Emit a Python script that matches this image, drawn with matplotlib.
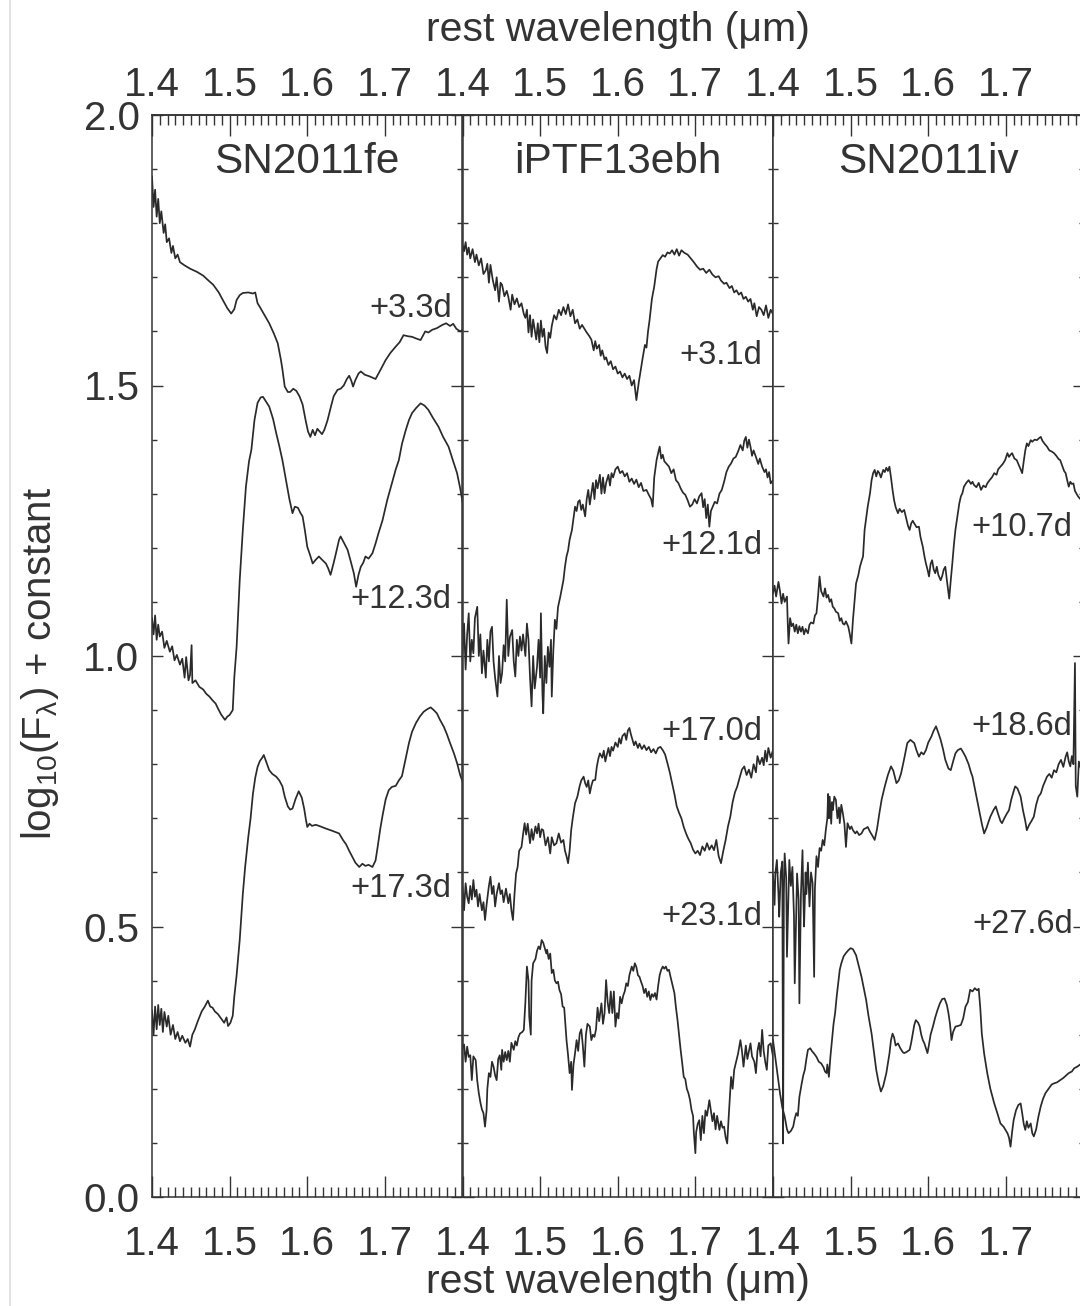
import numpy as np
import matplotlib
matplotlib.use("Agg")
import matplotlib.pyplot as plt
from matplotlib.ticker import MultipleLocator, FixedLocator, FixedFormatter
from matplotlib.lines import Line2D

plt.rcParams['font.family'] = ['Liberation Sans', 'DejaVu Sans']
plt.rcParams['mathtext.fontset'] = 'custom'
plt.rcParams['mathtext.rm'] = 'Liberation Sans'
plt.rcParams['mathtext.it'] = 'Liberation Sans:italic'

# --- spectra: (rest wavelength [um], log10 F + const) ---
fe_p33 = np.array([
    (1.400, 1.886), (1.402, 1.830), (1.404, 1.862), (1.406, 1.812), (1.408, 1.845), (1.410, 1.800),
    (1.412, 1.822), (1.415, 1.782), (1.417, 1.798), (1.419, 1.765), (1.422, 1.772), (1.425, 1.745),
    (1.427, 1.758), (1.430, 1.735), (1.433, 1.742), (1.436, 1.728), (1.442, 1.722), (1.449, 1.716),
    (1.458, 1.710), (1.466, 1.703), (1.472, 1.695), (1.479, 1.686), (1.486, 1.672), (1.492, 1.656),
    (1.497, 1.643), (1.502, 1.633), (1.506, 1.641), (1.509, 1.658), (1.513, 1.667), (1.517, 1.671),
    (1.524, 1.672), (1.530, 1.670), (1.533, 1.672), (1.536, 1.652), (1.539, 1.645), (1.545, 1.630),
    (1.551, 1.615), (1.557, 1.596), (1.562, 1.578), (1.566, 1.548), (1.568, 1.530), (1.571, 1.498),
    (1.575, 1.488), (1.578, 1.488), (1.582, 1.494), (1.586, 1.490), (1.590, 1.480), (1.594, 1.465),
    (1.598, 1.435), (1.601, 1.415), (1.604, 1.405), (1.607, 1.418), (1.610, 1.408), (1.613, 1.420),
    (1.616, 1.415), (1.619, 1.410), (1.622, 1.418), (1.626, 1.435), (1.630, 1.458), (1.634, 1.480),
    (1.639, 1.492), (1.643, 1.494), (1.647, 1.500), (1.651, 1.512), (1.654, 1.518), (1.657, 1.508),
    (1.659, 1.498), (1.662, 1.510), (1.666, 1.522), (1.669, 1.526), (1.674, 1.520), (1.680, 1.517),
    (1.688, 1.512), (1.694, 1.528), (1.701, 1.547), (1.707, 1.560), (1.714, 1.572), (1.719, 1.580),
    (1.724, 1.593), (1.730, 1.591), (1.735, 1.590), (1.740, 1.587), (1.746, 1.584), (1.752, 1.600),
    (1.756, 1.598), (1.761, 1.603), (1.767, 1.606), (1.774, 1.612), (1.779, 1.615), (1.784, 1.610),
    (1.788, 1.614), (1.792, 1.605), (1.797, 1.600), (1.800, 1.603)])

fe_p123 = np.array([
    (1.400, 1.070), (1.402, 1.040), (1.404, 1.075), (1.406, 1.030), (1.408, 1.058), (1.410, 1.036),
    (1.413, 1.045), (1.416, 1.015), (1.419, 1.028), (1.423, 1.008), (1.426, 1.018), (1.429, 0.992),
    (1.432, 1.002), (1.436, 0.984), (1.439, 0.995), (1.442, 0.960), (1.444, 0.998), (1.447, 0.955),
    (1.449, 0.965), (1.451, 1.020), (1.452, 0.950), (1.456, 0.955), (1.461, 0.943), (1.466, 0.938),
    (1.470, 0.930), (1.474, 0.925), (1.478, 0.918), (1.482, 0.912), (1.485, 0.903), (1.489, 0.892),
    (1.494, 0.882), (1.497, 0.888), (1.500, 0.891), (1.504, 0.900), (1.506, 0.960), (1.509, 1.017),
    (1.513, 1.140), (1.517, 1.233), (1.521, 1.313), (1.525, 1.360), (1.528, 1.381), (1.532, 1.436),
    (1.536, 1.468), (1.540, 1.478), (1.543, 1.479), (1.547, 1.470), (1.551, 1.461), (1.556, 1.438),
    (1.560, 1.412), (1.564, 1.388), (1.568, 1.362), (1.573, 1.322), (1.577, 1.290), (1.581, 1.264),
    (1.584, 1.276), (1.588, 1.274), (1.591, 1.265), (1.594, 1.258), (1.597, 1.232), (1.600, 1.202),
    (1.604, 1.185), (1.607, 1.171), (1.611, 1.178), (1.615, 1.184), (1.619, 1.178), (1.624, 1.171),
    (1.627, 1.162), (1.630, 1.150), (1.634, 1.172), (1.637, 1.190), (1.641, 1.215), (1.643, 1.221),
    (1.647, 1.210), (1.652, 1.196), (1.656, 1.175), (1.660, 1.153), (1.663, 1.128), (1.666, 1.150),
    (1.669, 1.165), (1.672, 1.172), (1.675, 1.184), (1.679, 1.180), (1.684, 1.190), (1.688, 1.208),
    (1.692, 1.228), (1.697, 1.251), (1.703, 1.288), (1.709, 1.319), (1.714, 1.345), (1.718, 1.362),
    (1.722, 1.392), (1.727, 1.418), (1.731, 1.436), (1.735, 1.449), (1.740, 1.458), (1.746, 1.467),
    (1.751, 1.463), (1.756, 1.455), (1.762, 1.440), (1.769, 1.424), (1.775, 1.405), (1.782, 1.387),
    (1.788, 1.360), (1.793, 1.338), (1.797, 1.310), (1.800, 1.285)])

fe_p173 = np.array([
    (1.400, 0.345), (1.402, 0.300), (1.404, 0.352), (1.406, 0.310), (1.408, 0.355), (1.410, 0.318),
    (1.412, 0.348), (1.414, 0.305), (1.416, 0.342), (1.419, 0.315), (1.421, 0.335), (1.424, 0.300),
    (1.427, 0.318), (1.430, 0.292), (1.433, 0.305), (1.436, 0.288), (1.439, 0.298), (1.443, 0.285),
    (1.446, 0.292), (1.449, 0.278), (1.452, 0.300), (1.455, 0.309), (1.459, 0.325), (1.464, 0.343),
    (1.468, 0.352), (1.472, 0.363), (1.475, 0.352), (1.478, 0.350), (1.481, 0.343), (1.485, 0.338),
    (1.489, 0.330), (1.493, 0.322), (1.496, 0.332), (1.498, 0.316), (1.501, 0.322), (1.504, 0.335),
    (1.506, 0.370), (1.509, 0.410), (1.513, 0.475), (1.517, 0.560), (1.520, 0.610), (1.524, 0.665),
    (1.527, 0.700), (1.530, 0.745), (1.533, 0.775), (1.536, 0.795), (1.539, 0.806), (1.542, 0.812),
    (1.544, 0.817), (1.547, 0.805), (1.551, 0.789), (1.555, 0.782), (1.560, 0.777), (1.564, 0.770),
    (1.568, 0.759), (1.571, 0.740), (1.575, 0.722), (1.578, 0.716), (1.581, 0.718), (1.585, 0.736),
    (1.589, 0.750), (1.593, 0.738), (1.596, 0.718), (1.598, 0.700), (1.600, 0.684), (1.603, 0.690),
    (1.606, 0.686), (1.611, 0.688), (1.617, 0.685), (1.624, 0.681), (1.632, 0.677), (1.641, 0.672),
    (1.646, 0.660), (1.650, 0.652), (1.654, 0.640), (1.658, 0.629), (1.662, 0.618), (1.667, 0.610),
    (1.671, 0.616), (1.675, 0.612), (1.679, 0.614), (1.684, 0.610), (1.688, 0.622), (1.691, 0.650),
    (1.694, 0.680), (1.697, 0.705), (1.701, 0.735), (1.705, 0.752), (1.709, 0.758), (1.714, 0.760),
    (1.718, 0.770), (1.722, 0.778), (1.726, 0.805), (1.731, 0.839), (1.735, 0.860), (1.740, 0.876),
    (1.745, 0.888), (1.750, 0.897), (1.755, 0.902), (1.759, 0.905), (1.763, 0.900), (1.767, 0.894),
    (1.771, 0.882), (1.776, 0.869), (1.780, 0.855), (1.784, 0.839), (1.789, 0.820), (1.793, 0.802),
    (1.797, 0.780), (1.800, 0.768)])

eb_p31 = np.array([
    (1.400, 1.760), (1.402, 1.748), (1.404, 1.765), (1.406, 1.742), (1.408, 1.755), (1.410, 1.735),
    (1.413, 1.752), (1.416, 1.728), (1.418, 1.742), (1.421, 1.722), (1.424, 1.735), (1.427, 1.706),
    (1.430, 1.713), (1.432, 1.725), (1.434, 1.690), (1.436, 1.723), (1.439, 1.695), (1.442, 1.676),
    (1.444, 1.700), (1.447, 1.655), (1.449, 1.690), (1.451, 1.686), (1.454, 1.665), (1.457, 1.675),
    (1.459, 1.664), (1.462, 1.640), (1.464, 1.668), (1.467, 1.650), (1.470, 1.661), (1.473, 1.645),
    (1.476, 1.652), (1.479, 1.632), (1.481, 1.625), (1.483, 1.640), (1.485, 1.598), (1.487, 1.630),
    (1.489, 1.590), (1.491, 1.622), (1.493, 1.603), (1.495, 1.585), (1.497, 1.615), (1.499, 1.580),
    (1.501, 1.620), (1.503, 1.590), (1.505, 1.605), (1.507, 1.572), (1.509, 1.560), (1.511, 1.598),
    (1.513, 1.588), (1.515, 1.610), (1.518, 1.630), (1.521, 1.622), (1.524, 1.640), (1.527, 1.630),
    (1.530, 1.645), (1.533, 1.632), (1.536, 1.650), (1.539, 1.628), (1.542, 1.640), (1.545, 1.615),
    (1.548, 1.622), (1.551, 1.605), (1.554, 1.612), (1.557, 1.605), (1.560, 1.598), (1.563, 1.592),
    (1.566, 1.585), (1.569, 1.565), (1.571, 1.582), (1.573, 1.568), (1.576, 1.575), (1.578, 1.555),
    (1.580, 1.565), (1.583, 1.548), (1.585, 1.552), (1.588, 1.538), (1.591, 1.545), (1.594, 1.530),
    (1.597, 1.535), (1.600, 1.522), (1.603, 1.526), (1.606, 1.515), (1.609, 1.522), (1.612, 1.512),
    (1.615, 1.518), (1.618, 1.500), (1.621, 1.510), (1.624, 1.473), (1.627, 1.505), (1.629, 1.523),
    (1.632, 1.550), (1.635, 1.575), (1.637, 1.570), (1.639, 1.600), (1.641, 1.621), (1.644, 1.660),
    (1.647, 1.683), (1.650, 1.715), (1.652, 1.729), (1.655, 1.735), (1.658, 1.741), (1.661, 1.738),
    (1.664, 1.746), (1.667, 1.744), (1.670, 1.750), (1.673, 1.742), (1.676, 1.752), (1.679, 1.740),
    (1.682, 1.750), (1.686, 1.745), (1.690, 1.742), (1.694, 1.735), (1.698, 1.728), (1.702, 1.720),
    (1.706, 1.714), (1.710, 1.716), (1.714, 1.708), (1.718, 1.714), (1.722, 1.705), (1.726, 1.700),
    (1.730, 1.702), (1.733, 1.694), (1.737, 1.688), (1.740, 1.690), (1.744, 1.680), (1.747, 1.684),
    (1.750, 1.672), (1.753, 1.676), (1.756, 1.668), (1.759, 1.672), (1.762, 1.660), (1.765, 1.664),
    (1.768, 1.655), (1.771, 1.660), (1.774, 1.640), (1.776, 1.652), (1.779, 1.628), (1.782, 1.645),
    (1.785, 1.640), (1.788, 1.630), (1.791, 1.648), (1.794, 1.625), (1.797, 1.640), (1.800, 1.632)])

eb_p121 = np.array([
    (1.400, 1.005), (1.402, 1.060), (1.404, 0.975), (1.406, 1.040), (1.408, 1.079), (1.410, 0.990),
    (1.412, 1.030), (1.414, 1.005), (1.416, 1.070), (1.419, 1.091), (1.421, 1.000), (1.423, 1.040),
    (1.425, 0.968), (1.427, 1.010), (1.430, 0.960), (1.432, 1.030), (1.434, 0.990), (1.436, 1.045),
    (1.438, 1.054), (1.440, 0.990), (1.442, 0.960), (1.445, 0.925), (1.447, 1.000), (1.449, 0.950),
    (1.451, 0.968), (1.453, 1.020), (1.455, 0.990), (1.457, 1.104), (1.459, 1.000), (1.461, 1.035),
    (1.464, 1.048), (1.466, 0.990), (1.468, 0.962), (1.470, 1.030), (1.472, 1.000), (1.474, 1.036),
    (1.476, 1.010), (1.478, 1.040), (1.481, 1.000), (1.483, 1.060), (1.485, 1.030), (1.487, 0.960),
    (1.489, 0.907), (1.491, 1.000), (1.493, 0.940), (1.496, 0.980), (1.498, 1.030), (1.500, 0.960),
    (1.501, 1.079), (1.503, 0.930), (1.504, 0.894), (1.506, 1.000), (1.508, 0.950), (1.510, 1.017),
    (1.512, 0.980), (1.514, 1.030), (1.515, 0.925), (1.517, 1.010), (1.519, 1.067), (1.521, 1.050),
    (1.523, 1.090), (1.526, 1.110), (1.528, 1.125), (1.530, 1.140), (1.532, 1.165), (1.534, 1.184),
    (1.536, 1.195), (1.538, 1.215), (1.541, 1.233), (1.543, 1.255), (1.545, 1.276), (1.547, 1.268),
    (1.549, 1.285), (1.551, 1.288), (1.553, 1.270), (1.555, 1.280), (1.558, 1.258), (1.560, 1.290),
    (1.562, 1.307), (1.564, 1.280), (1.566, 1.300), (1.568, 1.320), (1.570, 1.290), (1.572, 1.325),
    (1.574, 1.310), (1.577, 1.335), (1.579, 1.300), (1.581, 1.330), (1.583, 1.301), (1.585, 1.320),
    (1.588, 1.335), (1.590, 1.315), (1.592, 1.338), (1.594, 1.330), (1.597, 1.345), (1.600, 1.350),
    (1.603, 1.338), (1.606, 1.342), (1.609, 1.332), (1.612, 1.338), (1.615, 1.322), (1.618, 1.328),
    (1.621, 1.318), (1.624, 1.326), (1.627, 1.312), (1.630, 1.320), (1.633, 1.305), (1.637, 1.307),
    (1.640, 1.298), (1.643, 1.290), (1.645, 1.276), (1.647, 1.330), (1.650, 1.362), (1.652, 1.375),
    (1.654, 1.387), (1.656, 1.365), (1.658, 1.372), (1.660, 1.360), (1.663, 1.355), (1.666, 1.350),
    (1.669, 1.338), (1.672, 1.345), (1.675, 1.325), (1.678, 1.320), (1.681, 1.310), (1.684, 1.302),
    (1.687, 1.298), (1.690, 1.288), (1.693, 1.276), (1.696, 1.280), (1.699, 1.290), (1.702, 1.282),
    (1.705, 1.295), (1.708, 1.301), (1.710, 1.275), (1.712, 1.290), (1.714, 1.255), (1.716, 1.280),
    (1.718, 1.239), (1.720, 1.268), (1.722, 1.275), (1.725, 1.285), (1.728, 1.282), (1.731, 1.300),
    (1.734, 1.307), (1.737, 1.322), (1.740, 1.340), (1.743, 1.350), (1.746, 1.356), (1.749, 1.365),
    (1.752, 1.368), (1.755, 1.378), (1.758, 1.390), (1.761, 1.380), (1.763, 1.398), (1.765, 1.405),
    (1.767, 1.385), (1.769, 1.400), (1.771, 1.387), (1.773, 1.370), (1.775, 1.380), (1.778, 1.368),
    (1.781, 1.355), (1.783, 1.365), (1.786, 1.350), (1.789, 1.340), (1.791, 1.345), (1.793, 1.330),
    (1.795, 1.340), (1.797, 1.319), (1.800, 1.325)])

eb_p170 = np.array([
    (1.400, 0.573), (1.402, 0.530), (1.404, 0.580), (1.406, 0.555), (1.408, 0.543), (1.410, 0.575),
    (1.412, 0.550), (1.414, 0.586), (1.416, 0.555), (1.418, 0.568), (1.420, 0.537), (1.422, 0.560),
    (1.425, 0.530), (1.427, 0.545), (1.429, 0.512), (1.431, 0.540), (1.434, 0.575), (1.436, 0.592),
    (1.438, 0.560), (1.440, 0.575), (1.442, 0.537), (1.444, 0.560), (1.447, 0.580), (1.449, 0.560),
    (1.451, 0.567), (1.453, 0.545), (1.456, 0.570), (1.459, 0.543), (1.461, 0.560), (1.463, 0.530),
    (1.465, 0.512), (1.467, 0.560), (1.469, 0.598), (1.471, 0.610), (1.473, 0.640), (1.476, 0.647),
    (1.478, 0.670), (1.480, 0.691), (1.482, 0.670), (1.484, 0.690), (1.487, 0.654), (1.489, 0.680),
    (1.491, 0.660), (1.494, 0.685), (1.496, 0.672), (1.498, 0.690), (1.500, 0.665), (1.502, 0.680),
    (1.504, 0.678), (1.507, 0.650), (1.510, 0.665), (1.513, 0.635), (1.515, 0.665), (1.518, 0.650),
    (1.521, 0.654), (1.524, 0.672), (1.527, 0.655), (1.530, 0.660), (1.532, 0.640), (1.534, 0.630),
    (1.536, 0.617), (1.538, 0.640), (1.540, 0.678), (1.542, 0.700), (1.545, 0.728), (1.548, 0.740),
    (1.551, 0.760), (1.553, 0.770), (1.556, 0.777), (1.558, 0.765), (1.560, 0.758), (1.562, 0.770),
    (1.564, 0.746), (1.566, 0.760), (1.568, 0.770), (1.571, 0.771), (1.573, 0.795), (1.575, 0.810),
    (1.577, 0.820), (1.580, 0.812), (1.582, 0.825), (1.584, 0.805), (1.586, 0.818), (1.588, 0.830),
    (1.590, 0.815), (1.592, 0.832), (1.594, 0.825), (1.597, 0.840), (1.600, 0.832), (1.602, 0.848),
    (1.604, 0.838), (1.606, 0.852), (1.609, 0.857), (1.611, 0.845), (1.613, 0.862), (1.615, 0.867),
    (1.617, 0.855), (1.619, 0.845), (1.621, 0.835), (1.623, 0.842), (1.626, 0.830), (1.628, 0.838),
    (1.631, 0.828), (1.634, 0.835), (1.637, 0.826), (1.640, 0.832), (1.643, 0.822), (1.646, 0.828),
    (1.649, 0.820), (1.652, 0.830), (1.655, 0.832), (1.658, 0.826), (1.661, 0.818), (1.664, 0.802),
    (1.667, 0.785), (1.670, 0.765), (1.673, 0.745), (1.676, 0.722), (1.679, 0.710), (1.682, 0.700),
    (1.685, 0.684), (1.688, 0.672), (1.691, 0.662), (1.694, 0.654), (1.697, 0.642), (1.700, 0.635),
    (1.703, 0.640), (1.706, 0.632), (1.709, 0.648), (1.712, 0.640), (1.715, 0.654), (1.718, 0.642),
    (1.721, 0.650), (1.724, 0.641), (1.727, 0.660), (1.730, 0.630), (1.733, 0.617), (1.736, 0.640),
    (1.739, 0.660), (1.742, 0.685), (1.745, 0.703), (1.748, 0.730), (1.751, 0.748), (1.754, 0.759),
    (1.757, 0.775), (1.760, 0.790), (1.763, 0.796), (1.766, 0.780), (1.769, 0.790), (1.772, 0.775),
    (1.775, 0.800), (1.778, 0.785), (1.780, 0.815), (1.783, 0.800), (1.786, 0.812), (1.788, 0.798),
    (1.790, 0.825), (1.792, 0.805), (1.794, 0.830), (1.797, 0.812), (1.800, 0.826)])

eb_p231 = np.array([
    (1.400, 0.275), (1.402, 0.282), (1.404, 0.250), (1.406, 0.278), (1.408, 0.259), (1.410, 0.262),
    (1.412, 0.216), (1.414, 0.260), (1.417, 0.253), (1.419, 0.215), (1.421, 0.192), (1.423, 0.175),
    (1.425, 0.162), (1.427, 0.155), (1.429, 0.130), (1.431, 0.160), (1.432, 0.200), (1.434, 0.229),
    (1.436, 0.222), (1.438, 0.250), (1.440, 0.241), (1.442, 0.225), (1.444, 0.216), (1.446, 0.255),
    (1.448, 0.262), (1.450, 0.235), (1.451, 0.272), (1.453, 0.250), (1.455, 0.268), (1.457, 0.253),
    (1.459, 0.270), (1.461, 0.250), (1.463, 0.285), (1.466, 0.272), (1.468, 0.288), (1.470, 0.280),
    (1.472, 0.295), (1.474, 0.302), (1.477, 0.305), (1.479, 0.309), (1.481, 0.360), (1.483, 0.426),
    (1.485, 0.400), (1.486, 0.333), (1.488, 0.300), (1.489, 0.400), (1.491, 0.432), (1.494, 0.440),
    (1.496, 0.455), (1.498, 0.463), (1.500, 0.458), (1.502, 0.475), (1.504, 0.470), (1.506, 0.460),
    (1.508, 0.450), (1.509, 0.457), (1.511, 0.440), (1.513, 0.450), (1.515, 0.414), (1.517, 0.420),
    (1.519, 0.400), (1.521, 0.395), (1.523, 0.398), (1.525, 0.382), (1.527, 0.375), (1.529, 0.352),
    (1.531, 0.350), (1.534, 0.290), (1.536, 0.262), (1.538, 0.229), (1.540, 0.250), (1.541, 0.198),
    (1.543, 0.245), (1.545, 0.266), (1.547, 0.290), (1.549, 0.270), (1.551, 0.302), (1.553, 0.310),
    (1.555, 0.280), (1.557, 0.241), (1.559, 0.300), (1.561, 0.320), (1.564, 0.315), (1.566, 0.290),
    (1.568, 0.300), (1.570, 0.296), (1.572, 0.310), (1.574, 0.350), (1.576, 0.325), (1.579, 0.358),
    (1.581, 0.320), (1.583, 0.340), (1.585, 0.401), (1.587, 0.360), (1.589, 0.340), (1.591, 0.380),
    (1.593, 0.340), (1.595, 0.380), (1.597, 0.315), (1.599, 0.340), (1.601, 0.330), (1.603, 0.370),
    (1.605, 0.358), (1.607, 0.372), (1.609, 0.380), (1.611, 0.395), (1.613, 0.390), (1.615, 0.410),
    (1.618, 0.426), (1.620, 0.418), (1.622, 0.432), (1.624, 0.425), (1.626, 0.410), (1.628, 0.407),
    (1.630, 0.398), (1.632, 0.390), (1.634, 0.377), (1.636, 0.385), (1.638, 0.370), (1.640, 0.380),
    (1.642, 0.364), (1.644, 0.375), (1.646, 0.370), (1.648, 0.377), (1.650, 0.365), (1.652, 0.390),
    (1.654, 0.410), (1.656, 0.420), (1.658, 0.426), (1.660, 0.422), (1.662, 0.426), (1.664, 0.418),
    (1.666, 0.420), (1.668, 0.407), (1.670, 0.395), (1.673, 0.377), (1.675, 0.350), (1.677, 0.327),
    (1.679, 0.300), (1.681, 0.272), (1.683, 0.248), (1.685, 0.222), (1.687, 0.218), (1.689, 0.200),
    (1.691, 0.192), (1.693, 0.180), (1.695, 0.161), (1.697, 0.150), (1.698, 0.120), (1.700, 0.081),
    (1.701, 0.120), (1.703, 0.135), (1.705, 0.142), (1.707, 0.105), (1.709, 0.150), (1.711, 0.118),
    (1.713, 0.160), (1.715, 0.150), (1.718, 0.179), (1.720, 0.160), (1.722, 0.140), (1.724, 0.155),
    (1.726, 0.125), (1.728, 0.150), (1.731, 0.124), (1.733, 0.140), (1.735, 0.128), (1.737, 0.130),
    (1.739, 0.110), (1.741, 0.099), (1.743, 0.150), (1.746, 0.222), (1.748, 0.200), (1.750, 0.235),
    (1.752, 0.247), (1.755, 0.265), (1.758, 0.290), (1.760, 0.270), (1.762, 0.241), (1.765, 0.280),
    (1.767, 0.255), (1.769, 0.270), (1.771, 0.284), (1.773, 0.260), (1.776, 0.250), (1.778, 0.229),
    (1.780, 0.270), (1.782, 0.285), (1.784, 0.260), (1.786, 0.309), (1.788, 0.270), (1.790, 0.250),
    (1.792, 0.235), (1.794, 0.280), (1.797, 0.284), (1.800, 0.260)])

iv_p107 = np.array([
    (1.400, 1.116), (1.402, 1.130), (1.404, 1.110), (1.407, 1.137), (1.409, 1.120), (1.411, 1.097),
    (1.413, 1.115), (1.415, 1.100), (1.418, 1.110), (1.419, 1.060), (1.420, 1.023), (1.422, 1.070),
    (1.424, 1.055), (1.426, 1.060), (1.428, 1.045), (1.430, 1.058), (1.432, 1.042), (1.434, 1.055),
    (1.436, 1.045), (1.438, 1.054), (1.440, 1.040), (1.442, 1.050), (1.445, 1.042), (1.447, 1.058),
    (1.449, 1.062), (1.452, 1.060), (1.454, 1.075), (1.456, 1.079), (1.458, 1.110), (1.460, 1.147),
    (1.462, 1.120), (1.465, 1.110), (1.467, 1.125), (1.469, 1.108), (1.471, 1.113), (1.473, 1.100),
    (1.475, 1.105), (1.477, 1.091), (1.479, 1.088), (1.481, 1.082), (1.484, 1.079), (1.486, 1.065),
    (1.488, 1.070), (1.490, 1.060), (1.492, 1.058), (1.494, 1.064), (1.497, 1.054), (1.499, 1.040),
    (1.501, 1.023), (1.503, 1.067), (1.505, 1.100), (1.507, 1.134), (1.510, 1.150), (1.512, 1.165),
    (1.514, 1.175), (1.516, 1.184), (1.518, 1.233), (1.520, 1.255), (1.522, 1.276), (1.525, 1.301),
    (1.527, 1.325), (1.529, 1.338), (1.531, 1.344), (1.533, 1.332), (1.535, 1.342), (1.537, 1.338),
    (1.539, 1.330), (1.542, 1.344), (1.544, 1.340), (1.546, 1.348), (1.548, 1.342), (1.550, 1.350),
    (1.552, 1.330), (1.554, 1.307), (1.556, 1.288), (1.558, 1.275), (1.561, 1.264), (1.563, 1.272),
    (1.566, 1.266), (1.569, 1.270), (1.572, 1.252), (1.574, 1.240), (1.576, 1.233), (1.578, 1.245),
    (1.580, 1.250), (1.582, 1.245), (1.585, 1.238), (1.588, 1.239), (1.590, 1.220), (1.593, 1.202),
    (1.595, 1.185), (1.597, 1.171), (1.599, 1.160), (1.601, 1.147), (1.603, 1.170), (1.605, 1.177),
    (1.607, 1.160), (1.609, 1.153), (1.611, 1.165), (1.613, 1.150), (1.616, 1.140), (1.618, 1.148),
    (1.620, 1.160), (1.622, 1.165), (1.624, 1.140), (1.627, 1.106), (1.629, 1.140), (1.631, 1.171),
    (1.633, 1.205), (1.635, 1.233), (1.638, 1.262), (1.640, 1.282), (1.642, 1.295), (1.644, 1.301),
    (1.646, 1.313), (1.649, 1.320), (1.652, 1.325), (1.655, 1.318), (1.657, 1.322), (1.659, 1.316),
    (1.662, 1.312), (1.665, 1.320), (1.668, 1.307), (1.671, 1.315), (1.674, 1.312), (1.676, 1.319),
    (1.679, 1.325), (1.682, 1.330), (1.685, 1.338), (1.688, 1.335), (1.690, 1.345), (1.693, 1.350),
    (1.696, 1.355), (1.699, 1.362), (1.702, 1.375), (1.704, 1.368), (1.706, 1.372), (1.708, 1.375),
    (1.711, 1.365), (1.714, 1.362), (1.717, 1.352), (1.719, 1.345), (1.721, 1.338), (1.723, 1.360),
    (1.725, 1.380), (1.727, 1.393), (1.729, 1.388), (1.732, 1.399), (1.734, 1.396), (1.737, 1.400),
    (1.740, 1.399), (1.743, 1.403), (1.745, 1.405), (1.747, 1.398), (1.750, 1.392), (1.753, 1.387),
    (1.756, 1.380), (1.759, 1.378), (1.762, 1.375), (1.765, 1.370), (1.768, 1.364), (1.770, 1.362),
    (1.773, 1.350), (1.775, 1.342), (1.777, 1.338), (1.779, 1.325), (1.781, 1.313), (1.783, 1.322),
    (1.785, 1.318), (1.787, 1.319), (1.789, 1.305), (1.791, 1.300), (1.793, 1.295), (1.796, 1.290),
    (1.800, 1.288)])

iv_p186 = np.array([
    (1.400, 0.595), (1.402, 0.540), (1.403, 0.598), (1.405, 0.623), (1.407, 0.560), (1.408, 0.518),
    (1.410, 0.600), (1.412, 0.620), (1.413, 0.099), (1.414, 0.560), (1.415, 0.635), (1.417, 0.590),
    (1.418, 0.444), (1.420, 0.560), (1.421, 0.623), (1.423, 0.575), (1.425, 0.610), (1.427, 0.520),
    (1.428, 0.395), (1.430, 0.530), (1.431, 0.598), (1.433, 0.550), (1.434, 0.358), (1.436, 0.560),
    (1.438, 0.641), (1.439, 0.560), (1.440, 0.500), (1.442, 0.600), (1.443, 0.560), (1.445, 0.618),
    (1.447, 0.537), (1.449, 0.600), (1.451, 0.580), (1.453, 0.407), (1.454, 0.570), (1.456, 0.630),
    (1.458, 0.610), (1.460, 0.645), (1.462, 0.640), (1.464, 0.660), (1.466, 0.650), (1.468, 0.678),
    (1.470, 0.700), (1.471, 0.745), (1.472, 0.700), (1.473, 0.740), (1.475, 0.690), (1.476, 0.730),
    (1.477, 0.715), (1.479, 0.740), (1.481, 0.734), (1.483, 0.700), (1.485, 0.720), (1.486, 0.691),
    (1.488, 0.725), (1.490, 0.709), (1.492, 0.690), (1.494, 0.647), (1.496, 0.691), (1.499, 0.680),
    (1.501, 0.685), (1.503, 0.678), (1.506, 0.672), (1.508, 0.676), (1.511, 0.669), (1.514, 0.672),
    (1.517, 0.680), (1.520, 0.682), (1.522, 0.684), (1.525, 0.675), (1.528, 0.668), (1.531, 0.660),
    (1.534, 0.680), (1.537, 0.709), (1.540, 0.735), (1.544, 0.759), (1.548, 0.780), (1.552, 0.796),
    (1.555, 0.788), (1.559, 0.765), (1.562, 0.770), (1.565, 0.783), (1.569, 0.810), (1.573, 0.839),
    (1.577, 0.845), (1.582, 0.839), (1.585, 0.825), (1.588, 0.814), (1.591, 0.822), (1.594, 0.818),
    (1.597, 0.826), (1.600, 0.840), (1.604, 0.851), (1.607, 0.862), (1.610, 0.870), (1.613, 0.858),
    (1.616, 0.845), (1.619, 0.828), (1.622, 0.808), (1.626, 0.792), (1.629, 0.789), (1.632, 0.805),
    (1.635, 0.820), (1.638, 0.826), (1.642, 0.829), (1.645, 0.822), (1.648, 0.814), (1.652, 0.800),
    (1.655, 0.785), (1.657, 0.777), (1.660, 0.755), (1.663, 0.734), (1.666, 0.712), (1.669, 0.690),
    (1.672, 0.672), (1.675, 0.682), (1.678, 0.695), (1.680, 0.703), (1.684, 0.715), (1.687, 0.722),
    (1.690, 0.708), (1.693, 0.695), (1.695, 0.691), (1.698, 0.700), (1.701, 0.708), (1.704, 0.715),
    (1.707, 0.735), (1.710, 0.750), (1.712, 0.759), (1.715, 0.755), (1.719, 0.740), (1.722, 0.715),
    (1.725, 0.695), (1.727, 0.678), (1.730, 0.688), (1.733, 0.695), (1.736, 0.703), (1.739, 0.725),
    (1.742, 0.740), (1.745, 0.746), (1.748, 0.760), (1.751, 0.770), (1.753, 0.777), (1.756, 0.782),
    (1.759, 0.775), (1.762, 0.789), (1.765, 0.785), (1.768, 0.800), (1.771, 0.808), (1.774, 0.795),
    (1.777, 0.814), (1.779, 0.822), (1.781, 0.805), (1.783, 0.796), (1.785, 0.815), (1.787, 0.800),
    (1.789, 0.987), (1.790, 0.760), (1.792, 0.740), (1.794, 0.805), (1.797, 0.790), (1.800, 0.800)])

iv_p276 = np.array([
    (1.400, 0.290), (1.405, 0.235), (1.409, 0.192), (1.412, 0.165), (1.415, 0.149), (1.418, 0.125),
    (1.420, 0.118), (1.423, 0.122), (1.426, 0.130), (1.428, 0.145), (1.430, 0.155), (1.432, 0.150),
    (1.434, 0.185), (1.437, 0.210), (1.439, 0.225), (1.441, 0.235), (1.443, 0.255), (1.445, 0.272),
    (1.448, 0.275), (1.450, 0.270), (1.453, 0.265), (1.456, 0.259), (1.459, 0.250), (1.462, 0.247),
    (1.465, 0.240), (1.467, 0.232), (1.469, 0.229), (1.470, 0.245), (1.472, 0.222), (1.474, 0.260),
    (1.476, 0.290), (1.478, 0.320), (1.480, 0.340), (1.482, 0.370), (1.484, 0.395), (1.486, 0.420),
    (1.488, 0.432), (1.491, 0.445), (1.494, 0.451), (1.497, 0.456), (1.500, 0.460), (1.503, 0.458),
    (1.507, 0.447), (1.510, 0.430), (1.514, 0.407), (1.517, 0.385), (1.520, 0.364), (1.523, 0.335),
    (1.527, 0.302), (1.530, 0.268), (1.533, 0.235), (1.536, 0.212), (1.539, 0.195), (1.542, 0.205),
    (1.546, 0.229), (1.550, 0.265), (1.552, 0.290), (1.554, 0.302), (1.556, 0.295), (1.558, 0.280),
    (1.561, 0.284), (1.564, 0.275), (1.567, 0.268), (1.569, 0.266), (1.572, 0.268), (1.576, 0.272),
    (1.578, 0.285), (1.580, 0.302), (1.582, 0.318), (1.584, 0.327), (1.587, 0.322), (1.589, 0.315),
    (1.591, 0.300), (1.593, 0.290), (1.595, 0.284), (1.597, 0.275), (1.599, 0.266), (1.601, 0.282),
    (1.603, 0.300), (1.606, 0.315), (1.609, 0.332), (1.612, 0.346), (1.615, 0.358), (1.618, 0.366),
    (1.621, 0.367), (1.624, 0.355), (1.626, 0.340), (1.628, 0.320), (1.630, 0.290), (1.632, 0.305),
    (1.635, 0.315), (1.638, 0.316), (1.642, 0.318), (1.645, 0.330), (1.648, 0.352), (1.651, 0.360),
    (1.654, 0.383), (1.657, 0.380), (1.660, 0.386), (1.663, 0.382), (1.665, 0.385), (1.667, 0.350),
    (1.669, 0.302), (1.672, 0.265), (1.676, 0.229), (1.680, 0.200), (1.685, 0.173), (1.689, 0.155),
    (1.693, 0.136), (1.697, 0.130), (1.702, 0.118), (1.704, 0.110), (1.706, 0.093), (1.708, 0.120),
    (1.710, 0.142), (1.713, 0.160), (1.716, 0.170), (1.719, 0.173), (1.721, 0.155), (1.723, 0.135),
    (1.725, 0.124), (1.727, 0.140), (1.729, 0.128), (1.732, 0.136), (1.734, 0.118), (1.736, 0.112),
    (1.739, 0.125), (1.742, 0.149), (1.745, 0.168), (1.748, 0.182), (1.751, 0.192), (1.755, 0.200),
    (1.759, 0.208), (1.762, 0.210), (1.766, 0.212), (1.770, 0.216), (1.774, 0.220), (1.778, 0.225),
    (1.781, 0.229), (1.785, 0.232), (1.788, 0.238), (1.792, 0.241), (1.796, 0.245), (1.800, 0.250)])

panel_names = ['SN2011fe', 'iPTF13ebh', 'SN2011iv']
panel_spectra = [[fe_p33, fe_p123, fe_p173],
                 [eb_p31, eb_p121, eb_p170, eb_p231],
                 [iv_p107, iv_p186, iv_p276]]
epoch_labels = [['+3.3d', '+12.3d', '+17.3d'],
                ['+3.1d', '+12.1d', '+17.0d', '+23.1d'],
                ['+10.7d', '+18.6d', '+27.6d']]
epoch_label_y = [[1.643, 1.104, 0.571],
                 [1.555, 1.205, 0.861, 0.518],
                 [1.238, 0.869, 0.503]]
x_ticks = [1.4, 1.5, 1.6, 1.7, 1.8]
x_ticklabels = ['1.4', '1.5', '1.6', '1.7', '']
y_ticks = [0.0, 0.5, 1.0, 1.5, 2.0]

W, H = 1080, 1306
fig = plt.figure(figsize=(W / 100, H / 100), dpi=100)

ink = '#333333'
line_col = '#2a2a2a'
panel_left = [152, 462.5, 773]
panel_w = 310.5
bot_px, top_px = 1197, 115

for i in range(3):
    ax = fig.add_axes([panel_left[i] / W, 1 - bot_px / H, panel_w / W, (bot_px - top_px) / H])
    for spec in panel_spectra[i]:
        ax.plot(spec[:, 0], spec[:, 1], color=line_col, lw=1.25)
    ax.set_xlim(1.4, 1.8)
    ax.set_ylim(0, 2)

    ax.xaxis.set_major_locator(FixedLocator(x_ticks))
    ax.xaxis.set_major_formatter(FixedFormatter(x_ticklabels))
    ax.xaxis.set_minor_locator(MultipleLocator(0.01))
    ax.yaxis.set_major_locator(FixedLocator(y_ticks))
    ax.yaxis.set_minor_locator(MultipleLocator(0.1))

    ax.tick_params(axis='x', which='both', direction='in', top=False, bottom=True,
                   colors=ink, labelsize=29, width=1.0)
    ax.tick_params(axis='x', which='major', length=15, pad=20)
    ax.tick_params(axis='x', which='minor', length=7)
    ax.tick_params(axis='y', which='both', direction='in', left=True, right=True,
                   colors=ink, labelsize=29, width=1.0, pad=9, labelleft=(i == 0))
    ax.tick_params(axis='y', which='major', length=8)
    ax.tick_params(axis='y', which='minor', length=3.5)
    if i == 0:
        ax.yaxis.set_major_formatter(FixedFormatter(['0.0', '0.5', '1.0', '1.5', '2.0']))
    for sp in ax.spines.values():
        sp.set_color(ink)
        sp.set_linewidth(1.1)

    sec = ax.secondary_xaxis('top')
    sec.xaxis.set_major_locator(FixedLocator(x_ticks))
    sec.xaxis.set_major_formatter(FixedFormatter(x_ticklabels))
    sec.xaxis.set_minor_locator(MultipleLocator(0.01))
    sec.tick_params(axis='x', which='both', direction='in', colors=ink, labelsize=29, width=1.0)
    sec.tick_params(axis='x', which='major', length=15, pad=8)
    sec.tick_params(axis='x', which='minor', length=7)
    sec.spines['top'].set_color(ink)
    sec.spines['top'].set_linewidth(1.1)

    ax.text(1.6, 1.913, panel_names[i], ha='center', va='center', fontsize=30.5, color=ink)
    for lab, yy in zip(epoch_labels[i], epoch_label_y[i]):
        ax.text(1.786, yy, lab, ha='right', va='center', fontsize=23.5, color=ink)

mid = (panel_left[1] + panel_w / 2) / W
fig.text(mid, 1 - 30 / H, 'rest wavelength (μm)', ha='center', va='center', fontsize=29.5, color=ink)
fig.text(mid, 1 - 1282 / H, 'rest wavelength (μm)', ha='center', va='center', fontsize=29.5, color=ink)
fig.text(40 / W, 1 - 663 / H, r'log$_{\mathregular{10}}$(F$_{\mathregular{λ}}$) + constant',
         ha='center', va='center', rotation=90, fontsize=29, color=ink)

# faint frame line at the left edge of the page
fig.add_artist(Line2D([9.5 / W, 9.5 / W], [0, 1], color='#dddddd', lw=1.2))

fig.savefig('out.png', dpi=100)
